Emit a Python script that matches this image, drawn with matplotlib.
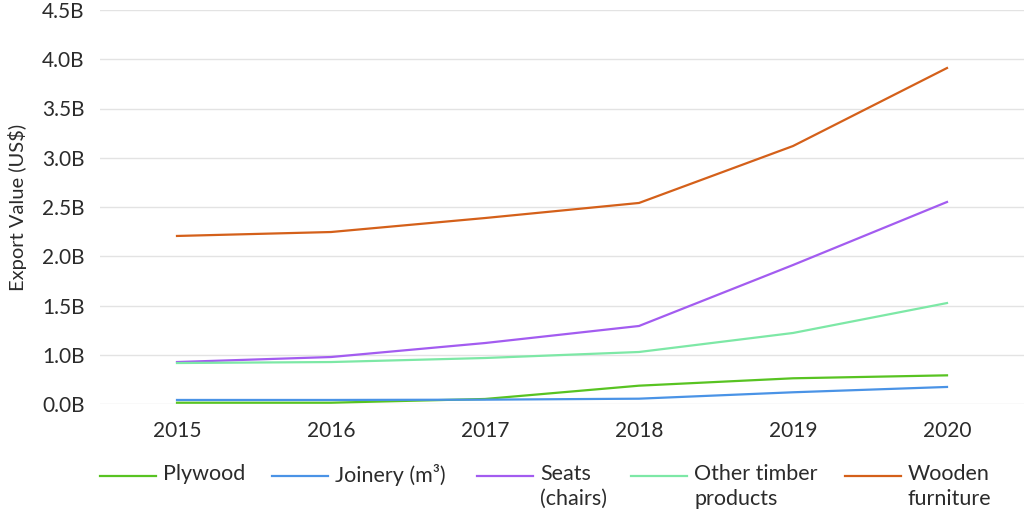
import matplotlib
matplotlib.use("Agg")
import matplotlib.pyplot as plt
from matplotlib.lines import Line2D

plt.rcParams['font.family'] = ['Lato', 'DejaVu Sans']

years = [2015, 2016, 2017, 2018, 2019, 2020]

# values in gridline-position units (each gridline step = 0.5)
plywood = [0.013, 0.013, 0.051, 0.186, 0.261, 0.291]
joinery = [0.041, 0.041, 0.044, 0.054, 0.119, 0.173]
seats = [0.426, 0.477, 0.619, 0.792, 1.411, 2.051]
other_timber = [0.416, 0.426, 0.467, 0.528, 0.721, 1.025]
wooden_furniture = [1.706, 1.746, 1.888, 2.041, 2.619, 3.411]

series_labels = ["Plywood", "Joinery (m³)", "Seats\n(chairs)",
                 "Other timber\nproducts", "Wooden\nfurniture"]
series_colors = ["#58c322", "#4a93e6", "#a35cf0", "#7de8a6", "#d4601a"]

ytick_pos = [0, 0.5, 1.0, 1.5, 2.0, 2.5, 3.0, 3.5, 4.0]
ytick_labels = ["0.0B", "1.0B", "1.5B", "2.0B", "2.5B", "3.0B", "3.5B", "4.0B", "4.5B"]

fig = plt.figure(figsize=(10.24, 5.16), dpi=100)
ax = fig.add_axes([100/1024, (516-404)/516, 924/1024, 394/516])

all_series = [plywood, joinery, seats, other_timber, wooden_furniture]
for vals, c in zip(all_series, series_colors):
    ax.plot(years, vals, color=c, lw=1.6, clip_on=False, zorder=3)

ax.set_xlim(2014.5, 2020.5)
ax.set_ylim(0, 4.0)
ax.set_yticks(ytick_pos)
ax.set_yticklabels(ytick_labels)
ax.set_xticks(years)
ax.set_xticklabels([str(y) for y in years])
ax.tick_params(axis='both', length=0, labelsize=15, colors="#2b2b2b")
ax.tick_params(axis='y', pad=11)
ax.tick_params(axis='x', pad=12)
ax.grid(axis='y', color="#e3e3e3", lw=1)
ax.set_axisbelow(True)
for s in ax.spines.values():
    s.set_visible(False)
ax.set_ylabel("Export Value (US$)", fontsize=14.5, color="#2b2b2b", labelpad=11)

# legend drawn at figure level
handle_x = [100, 272, 477, 631, 845]
handle_len = 56
ly = 516 - 476
for hx, lab, c in zip(handle_x, series_labels, series_colors):
    fig.add_artist(Line2D([hx/1024, (hx+handle_len)/1024], [ly/516, ly/516],
                          color=c, lw=1.6, transform=fig.transFigure))
    fig.text((hx+handle_len+7)/1024, (ly+12)/516, lab, fontsize=15.5,
             color="#2b2b2b", va='top', ha='left', linespacing=1.3)

fig.savefig("out.png", dpi=100)
